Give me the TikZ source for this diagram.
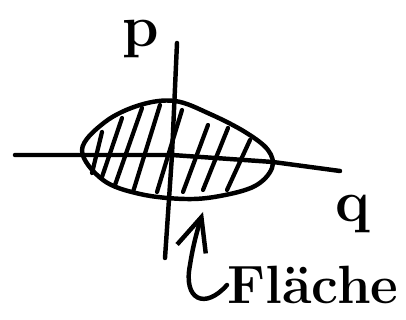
\documentclass[tikz,border=0pt]{standalone}
\usepackage{tikz}
\usetikzlibrary{arrows.meta}
\tikzset{
  pen/.style={line width=3.8pt, line cap=round, line join=round},
  axis/.style={pen},
  hatch/.style={pen, line width=3.6pt},
  klabel/.style={inner sep=0pt, font=\bfseries\fontsize{50}{54}\selectfont},
  kname/.style={inner sep=0pt, font=\bfseries\fontsize{46}{50}\selectfont},
  pointer/.style={pen, -{Straight Barb[length=10mm, width=9mm, line width=3.8pt]}},
}

\begin{document}
\begin{tikzpicture}[x=0.03cm, y=-0.03cm]
    \useasboundingbox (0,0) rectangle (406,320);
    % axes
    \coordinate (ptop) at (177,43);
    \coordinate (pbot) at (165,258);
    \coordinate (qleft) at (15,155);
    \coordinate (qright) at (340,171);
    \draw[axis] (ptop) -- (172,155) -- (pbot);
    \draw[axis] (qleft) -- (172,155) -- (273,162) -- (qright);
    \node[klabel] (p) at (141,39) {p};
    \node[klabel] (q) at (353,214) {q};
    % area
    \draw[pen] plot[smooth cycle, tension=0.6] coordinates {
      (82,150) (105,122) (140,105) (175,101) (210,114) (245,132) (268,150)
      (272,168) (255,186) (220,196) (185,199) (140,194) (103,180)};
    \foreach \xa/\ya/\xb/\yb in {92/173/102/132, 102/177/122/118, 115/185/142/108,
      133/192/160/105, 157/192/182/110, 183/192/208/125, 203/190/228/128, 227/190/250/140}
      \draw[hatch] (\xa,\ya) -- (\xb,\yb);
    \coordinate (rim) at (203,212);
    % label
    \node[kname] (flaeche) at (313,285) {Fläche};
    \draw[pointer] (227,285) .. controls (205,310) and (183,300) .. (190,265)
      .. controls (193,245) and (198,228) .. (rim);
  \end{tikzpicture}
\end{document}
